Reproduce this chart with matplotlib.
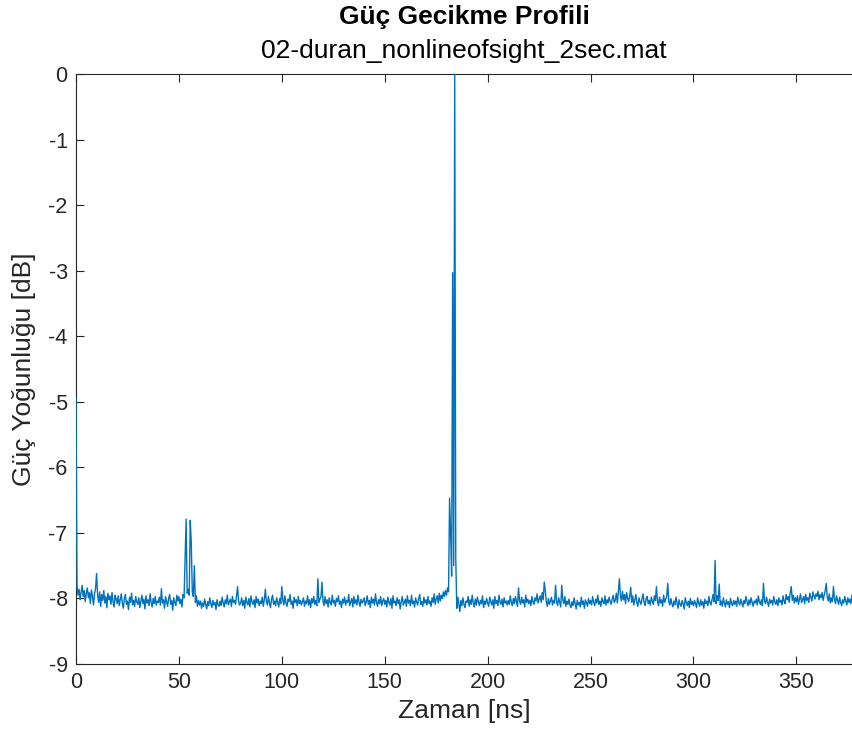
import numpy as np
import matplotlib.pyplot as plt

plt.rcParams['font.family'] = ['Liberation Sans', 'DejaVu Sans']
plt.rcParams['axes.unicode_minus'] = False

# power delay profile, one sample every 0.5 ns, in dB (normalised to the strongest tap)
dt_ns = 0.5
pdp_db = [
    -4.95, -7.82, -7.95, -7.86, -8.02, -7.90, -7.80, -7.97, -7.88, -8.05, -7.92, -7.84, -7.99, -7.91, -8.08, -7.87, -7.96, -8.10, -7.93, -7.85,
    -7.62, -7.95, -8.06, -7.90, -8.12, -7.94, -8.03, -7.88, -8.07, -7.97, -8.14, -7.92, -8.02, -7.96, -8.09, -7.91, -8.05, -8.13, -7.95, -8.01,
    -8.08, -7.96, -8.11, -8.02, -7.93, -8.07, -8.15, -8.00, -7.94, -8.09, -8.04, -8.17, -7.98, -8.06, -7.92, -8.10, -8.03, -8.12, -7.97, -8.05,
    -8.09, -7.99, -8.14, -8.04, -7.95, -8.08, -8.01, -8.16, -7.96, -8.07, -8.02, -8.11, -7.93, -8.06, -8.13, -8.00, -8.08, -7.97, -8.10, -8.04,
    -8.06, -7.98, -8.10, -7.85, -8.07, -8.02, -8.15, -7.97, -8.05, -8.12, -8.00, -7.94, -8.09, -8.03, -8.18, -7.99, -8.06, -8.11, -7.95, -8.04,
    -7.97, -8.08, -8.01, -8.13, -7.94, -7.99, -7.36, -6.79, -7.92, -7.86, -7.95, -6.81, -7.14, -7.90, -7.97, -7.50, -8.06, -7.96, -8.12, -8.03,
    -8.10, -8.04, -8.15, -8.07, -8.12, -8.01, -8.09, -8.16, -8.05, -8.11, -7.99, -8.08, -8.14, -8.03, -8.10, -8.06, -8.17, -8.02, -8.09, -8.12,
    -8.04, -8.11, -7.98, -8.07, -8.13, -8.02, -8.08, -7.95, -8.10, -8.05, -8.01, -8.12, -7.97, -8.06, -8.03, -8.09, -7.96, -7.82, -8.04, -8.10,
    -8.07, -7.99, -8.11, -8.03, -8.15, -7.98, -8.06, -8.10, -8.00, -8.13, -7.96, -8.05, -8.09, -8.02, -8.14, -7.97, -8.07, -8.01, -8.11, -8.04,
    -8.08, -7.98, -8.12, -8.02, -7.86, -8.05, -8.10, -7.97, -8.07, -8.14, -8.01, -7.95, -8.09, -8.04, -8.11, -7.99, -8.06, -8.13, -8.00, -8.08,
    -7.82, -8.03, -8.10, -7.96, -8.07, -8.12, -8.01, -8.05, -7.94, -8.09, -8.04, -8.15, -7.98, -8.06, -8.02, -8.11, -7.97, -8.08, -8.03, -8.10,
    -8.05, -7.99, -8.12, -8.04, -8.08, -7.96, -8.10, -8.02, -8.14, -8.00, -8.07, -7.97, -8.09, -8.03, -8.11, -7.70, -8.06, -8.01, -7.98, -7.75,
    -8.04, -8.11, -7.97, -8.08, -8.02, -8.13, -7.99, -8.06, -8.10, -7.95, -8.07, -8.03, -8.12, -8.00, -8.05, -7.96, -8.09, -8.04, -8.14, -8.01,
    -8.07, -7.98, -8.10, -8.03, -8.06, -7.94, -8.11, -8.05, -8.00, -8.13, -7.97, -8.08, -8.02, -8.10, -7.95, -8.06, -8.12, -8.01, -8.07, -8.04,
    -7.99, -8.11, -8.05, -7.96, -8.09, -8.03, -8.14, -7.98, -8.07, -8.01, -8.10, -7.93, -8.06, -8.12, -8.02, -8.08, -7.97, -8.11, -8.04, -8.00,
    -8.09, -8.03, -8.13, -7.98, -8.06, -8.10, -8.00, -8.15, -7.96, -8.07, -8.04, -8.11, -7.99, -8.08, -8.02, -8.16, -8.05, -7.97, -8.10, -8.06,
    -8.01, -8.12, -7.96, -8.07, -8.03, -8.11, -7.95, -8.08, -8.04, -8.13, -7.99, -8.06, -8.10, -8.00, -7.94, -8.09, -8.05, -8.12, -7.98, -8.07,
    -8.02, -8.10, -7.97, -8.08, -8.04, -8.12, -7.99, -8.06, -7.93, -8.09, -8.01, -7.96, -8.07, -7.92, -8.04, -7.95, -8.00, -7.90, -7.97, -7.88,
    -7.95, -7.84, -7.90, -6.47, -7.02, -7.66, -3.03, -7.50, 0.00, -7.38, -8.15, -7.98, -8.08, -8.20, -8.03, -8.11, -7.99, -8.09, -8.14, -8.04,
    -8.06, -7.97, -8.12, -8.02, -8.09, -7.95, -8.07, -8.13, -8.01, -8.10, -7.98, -8.05, -8.11, -8.03, -8.08, -7.96, -8.14, -8.04, -8.09, -8.00,
    -8.07, -8.12, -7.98, -8.05, -8.10, -8.02, -8.15, -7.97, -8.08, -8.03, -8.11, -7.95, -8.06, -8.09, -8.01, -8.13, -7.99, -8.07, -8.04, -8.10,
    -8.03, -8.09, -7.96, -8.06, -8.11, -8.00, -8.08, -7.97, -8.05, -8.12, -7.84, -8.04, -8.09, -7.98, -8.07, -8.02, -8.13, -7.95, -8.06, -8.01,
    -8.08, -8.03, -8.11, -7.97, -8.05, -8.09, -7.99, -8.04, -7.93, -8.07, -8.01, -7.96, -8.06, -7.91, -8.02, -7.75, -7.88, -8.05, -8.12, -8.00,
    -8.09, -8.04, -7.98, -8.10, -8.03, -8.07, -7.80, -8.05, -8.11, -7.99, -8.06, -8.13, -7.80, -8.02, -8.08, -7.97, -8.12, -8.04, -8.09, -8.01,
    -8.10, -8.14, -8.05, -8.11, -7.99, -8.08, -8.16, -8.03, -8.10, -8.06, -8.13, -7.98, -8.09, -8.04, -8.15, -8.02, -8.07, -8.12, -8.00, -8.08,
    -8.03, -8.10, -7.97, -8.06, -8.11, -8.01, -8.07, -7.95, -8.09, -8.04, -8.12, -7.99, -8.05, -8.08, -7.96, -8.10, -8.02, -8.07, -7.98, -8.04,
    -8.09, -8.01, -7.95, -8.06, -8.03, -7.92, -8.07, -7.90, -7.70, -7.96, -8.04, -7.89, -8.02, -7.94, -8.08, -7.91, -7.99, -8.05, -7.97, -7.83,
    -8.06, -7.96, -8.10, -8.02, -7.94, -8.07, -8.12, -7.99, -8.05, -8.09, -8.01, -7.93, -8.06, -8.11, -8.00, -7.97, -8.08, -8.03, -8.10, -7.98,
    -8.04, -8.09, -7.96, -8.03, -7.82, -8.05, -8.11, -7.98, -8.07, -8.02, -8.12, -7.95, -8.06, -8.01, -7.97, -7.77, -8.05, -8.10, -8.00, -8.08,
    -8.13, -8.04, -8.10, -7.98, -8.07, -8.15, -8.02, -8.09, -8.12, -8.03, -8.08, -8.16, -7.99, -8.06, -8.11, -8.04, -8.14, -8.00, -8.09, -8.05,
    -8.11, -8.03, -8.08, -8.14, -7.99, -8.07, -8.12, -8.02, -8.10, -8.05, -8.15, -8.01, -8.08, -8.04, -8.11, -7.97, -8.06, -8.10, -8.02, -7.94,
    -8.05, -7.42, -8.08, -7.96, -8.03, -7.78, -8.10, -8.04, -8.12, -7.99, -8.07, -8.13, -8.02, -8.09, -8.05, -8.14, -8.00, -8.08, -8.11, -8.03,
    -8.09, -8.04, -8.12, -7.98, -8.06, -8.10, -8.01, -8.07, -8.13, -8.03, -8.08, -7.97, -8.05, -8.11, -8.02, -8.09, -7.99, -8.06, -8.12, -8.04,
    -8.07, -8.01, -8.10, -7.96, -8.05, -8.09, -8.02, -8.11, -7.77, -8.04, -8.08, -7.98, -8.06, -8.12, -8.01, -8.07, -8.03, -8.10, -7.97, -8.05,
    -8.09, -8.02, -8.11, -7.99, -8.06, -8.03, -8.10, -7.96, -8.04, -8.08, -7.94, -8.02, -7.97, -8.06, -7.91, -7.82, -8.03, -7.95, -8.07, -7.99,
    -8.05, -7.96, -8.09, -8.01, -7.93, -8.06, -8.02, -7.97, -8.08, -7.94, -8.03, -7.99, -8.06, -7.92, -7.98, -8.04, -7.90, -7.96, -8.01, -7.93,
    -7.97, -7.89, -8.02, -7.94, -7.99, -7.91, -8.03, -7.95, -7.88, -7.77, -7.98, -8.04, -7.93, -8.07, -7.99, -8.05, -7.82, -8.01, -8.08, -7.96,
    -8.03, -8.09, -7.98, -8.06, -8.11, -8.02, -8.07, -7.97, -8.04, -8.10, -7.99, -8.06, -8.01, -8.08, -7.95, -8.03, -7.83, -8.05, -8.09, -8.00,
]
t_ns = np.arange(len(pdp_db)) * dt_ns

x_ticks = [0, 50, 100, 150, 200, 250, 300, 350]
y_ticks = [-9, -8, -7, -6, -5, -4, -3, -2, -1, 0]

W, H = 852, 746
fig = plt.figure(figsize=(W / 100, H / 100), dpi=100)
ax = fig.add_axes([76 / W, 82 / H, 777 / W, 590 / H])

ax.plot(t_ns, pdp_db, color='#0072BD', lw=1.0, zorder=3)

ax.set_xlim(0, 377.5)
ax.set_ylim(-9, 0)
ax.set_xticks(x_ticks)
ax.set_yticks(y_ticks)

axcol = '#262626'
for s in ax.spines.values():
    s.set_color(axcol)
    s.set_linewidth(0.8)
ax.tick_params(direction='in', length=6, width=0.8, colors=axcol,
               labelsize=15.5, top=True, right=False, pad=6)

ax.set_xlabel('Zaman [ns]', fontsize=19, color=axcol)
ax.xaxis.set_label_coords(0.5, (664 - 699) / 590)
ax.set_ylabel('Güç Yoğunluğu [dB]', fontsize=19, color=axcol, va='center')
ax.yaxis.set_label_coords((24 - 76) / 777, 0.5)

fig.text(464 / W, 1 - 17 / H, 'Güç Gecikme Profili', ha='center', va='center',
         fontsize=19, fontweight='bold', color='black')
fig.text(464 / W, 1 - 51 / H, '02-duran_nonlineofsight_2sec.mat', ha='center',
         va='center', fontsize=19, color='black')

fig.savefig('out.png', dpi=100)
